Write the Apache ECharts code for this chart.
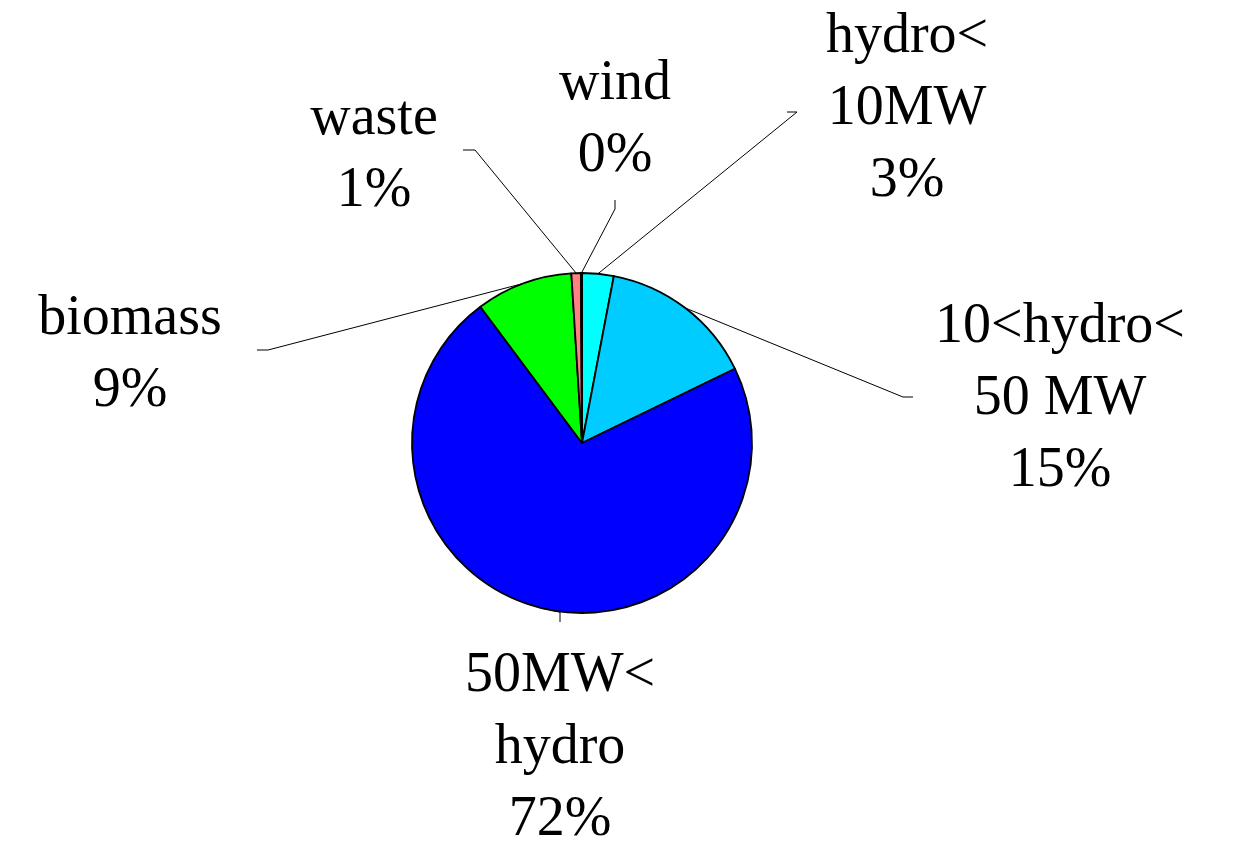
<!DOCTYPE html>
<html>
<head>
<meta charset="utf-8">
<script src="https://cdn.jsdelivr.net/npm/echarts@6/dist/echarts.min.js"></script>
<style>
html,body{margin:0;padding:0;background:#fff;}
#chart{width:1242px;height:842px;}
</style>
</head>
<body>
<div id="chart"></div>
<script>
// Data (clockwise from 12 o'clock)
const categories = ['hydro<\n10MW', '10<hydro<\n50 MW', '50MW<\nhydro', 'biomass', 'waste', 'wind'];
const shares = [3.0, 14.8, 72.0, 9.2, 0.9, 0.1];
const colors = ['#00FFFF', '#00CCFF', '#0000FF', '#00FF00', '#FF8080', '#FFFFFF'];

// Label placement (text block centre) and leader-line bend/end points
const labelPos = [
  {x: 907, y: 109, bend: [797, 112], end: [787, 112]},
  {x: 1060, y: 399, bend: [903, 397], end: [913, 397]},
  {x: 560, y: 748, bend: [560, 612], end: [560, 622]},
  {x: 130, y: 355, bend: [268, 350], end: [257, 350]},
  {x: 374, y: 155, bend: [475, 150], end: [463, 150]},
  {x: 615, y: 120, bend: [615, 209], end: [615, 200]}
];

const chart = echarts.init(document.getElementById('chart'), null, {renderer: 'canvas'});
chart.setOption({
  backgroundColor: '#fff',
  animation: false,
  series: [{
    type: 'pie',
    center: [582, 443],
    radius: 170,
    startAngle: 90,
    clockwise: true,
    avoidLabelOverlap: false,
    data: categories.map((c, i) => ({
      name: c,
      value: shares[i],
      itemStyle: {color: colors[i]}
    })),
    itemStyle: {borderColor: '#000', borderWidth: 1.8},
    label: {
      show: true,
      position: 'outside',
      formatter: p => p.name + '\n' + Math.round(p.value) + '%',
      fontFamily: 'Liberation Serif',
      fontSize: 56,
      lineHeight: 72,
      color: '#000',
      align: 'center'
    },
    labelLine: {
      show: true,
      length: 20,
      length2: 10,
      lineStyle: {color: '#000', width: 1}
    },
    labelLayout: function (params) {
      const lp = labelPos[params.dataIndex];
      const start = params.labelLinePoints ? params.labelLinePoints[0] : lp.bend;
      return {
        x: lp.x,
        y: lp.y,
        align: 'center',
        verticalAlign: 'middle',
        labelLinePoints: [start, lp.bend, lp.end]
      };
    }
  }]
});
</script>
</body>
</html>
